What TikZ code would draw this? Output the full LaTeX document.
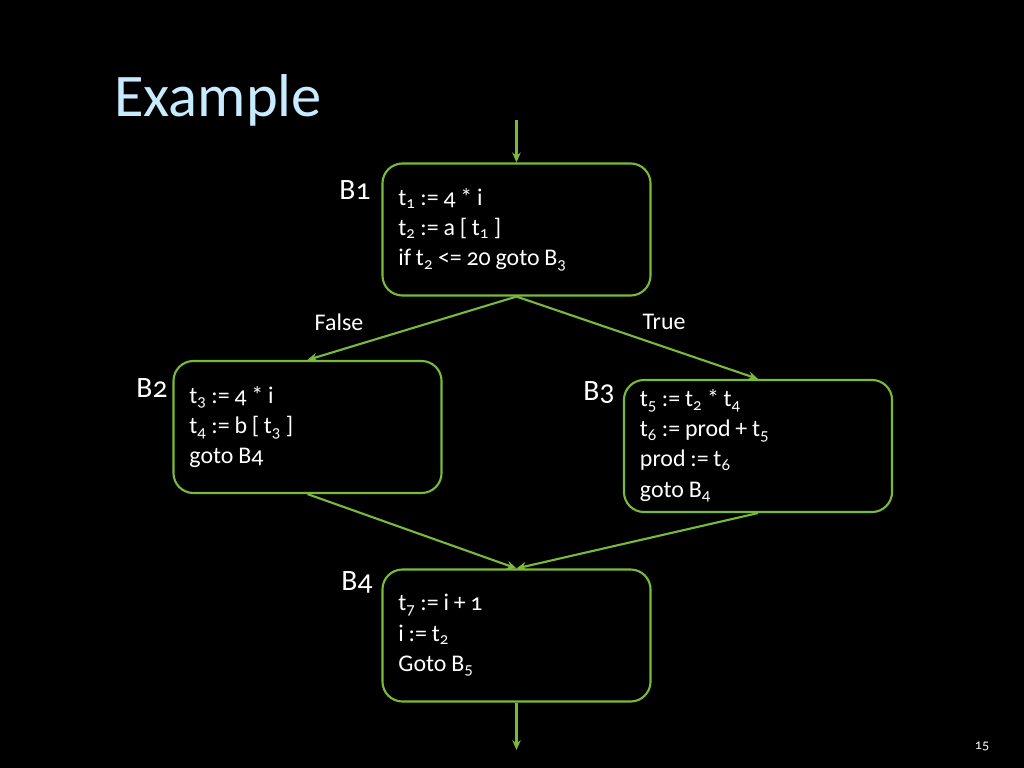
\documentclass[tikz,border=0pt]{standalone}
\usepackage{fontspec}
\setmainfont{Carlito}[Numbers=OldStyle]
\usetikzlibrary{positioning, arrows.meta}
\definecolor{edgegreen}{RGB}{122,186,58}
\definecolor{titleblue}{RGB}{200,235,255}

\begin{document}
\begin{tikzpicture}[
    x=0.025cm, y=-0.025cm,
    font=\fontsize{17}{21.5}\selectfont,
    text=white,
    block/.style={
        rectangle,
        rounded corners=0.5cm,
        draw=edgegreen,
        line width=1.5pt,
        align=left,
        text width=5.9cm,
        inner xsep=0.4cm,
        minimum height=3.3cm,
        execute at begin node={\spaceskip=0.2em\relax}
    },
    blabel/.style={font=\fontsize{21}{24}\selectfont},
    arrow/.style={-{Stealth[length=7pt,width=6pt]}, draw=edgegreen, line width=1.5pt}
]

\fill[black] (0,0) rectangle (1024,768);
\useasboundingbox (0,0) rectangle (1024,768);

\node[text=titleblue, font=\fontsize{43}{46}\selectfont] (title) at (218,100) {Example};

\node[block] (b1) at (516.5,229.5) {t\textsubscript{1} := 4 * i\\t\textsubscript{2} := a [ t\textsubscript{1} ]\\if t\textsubscript{2} <= 20 goto B\textsubscript{3}};
\node[block] (b2) at (307.5,427) {t\textsubscript{3} := 4 * i\\t\textsubscript{4} := b [ t\textsubscript{3} ]\\goto B4};
\node[block] (b3) at (758,446) {t\textsubscript{5} := t\textsubscript{2} * t\textsubscript{4}\\t\textsubscript{6} := prod + t\textsubscript{5}\\prod := t\textsubscript{6}\\goto B\textsubscript{4}};
\node[block] (b4) at (516.5,635.5) {t\textsubscript{7} := i + 1\\i := t\textsubscript{2}\\Goto B\textsubscript{5}};

\node[blabel] (l1) at (355,190) {B1};
\node[blabel] (l2) at (152,388) {B2};
\node[blabel] (l3) at (599,393) {B3};
\node[blabel] (l4) at (357,582) {B4};

\coordinate (entry) at (516.5,120);
\coordinate (exit) at (516.5,750);

\draw[arrow] (entry) -- (b1);
\draw[arrow] (b1.south) -- (b2.north);
\draw[arrow] (b1.south) -- (b3.north);
\draw[arrow] (b2.south) -- (b4.north);
\draw[arrow] (b3.south) -- (b4.north);
\draw[arrow] (b4) -- (exit);

\node (false) at (339,322) {False};
\node (true) at (664,322) {True};

\node[font=\fontsize{10}{12}\selectfont] (page) at (982,746) {15};

\end{tikzpicture}
\end{document}
